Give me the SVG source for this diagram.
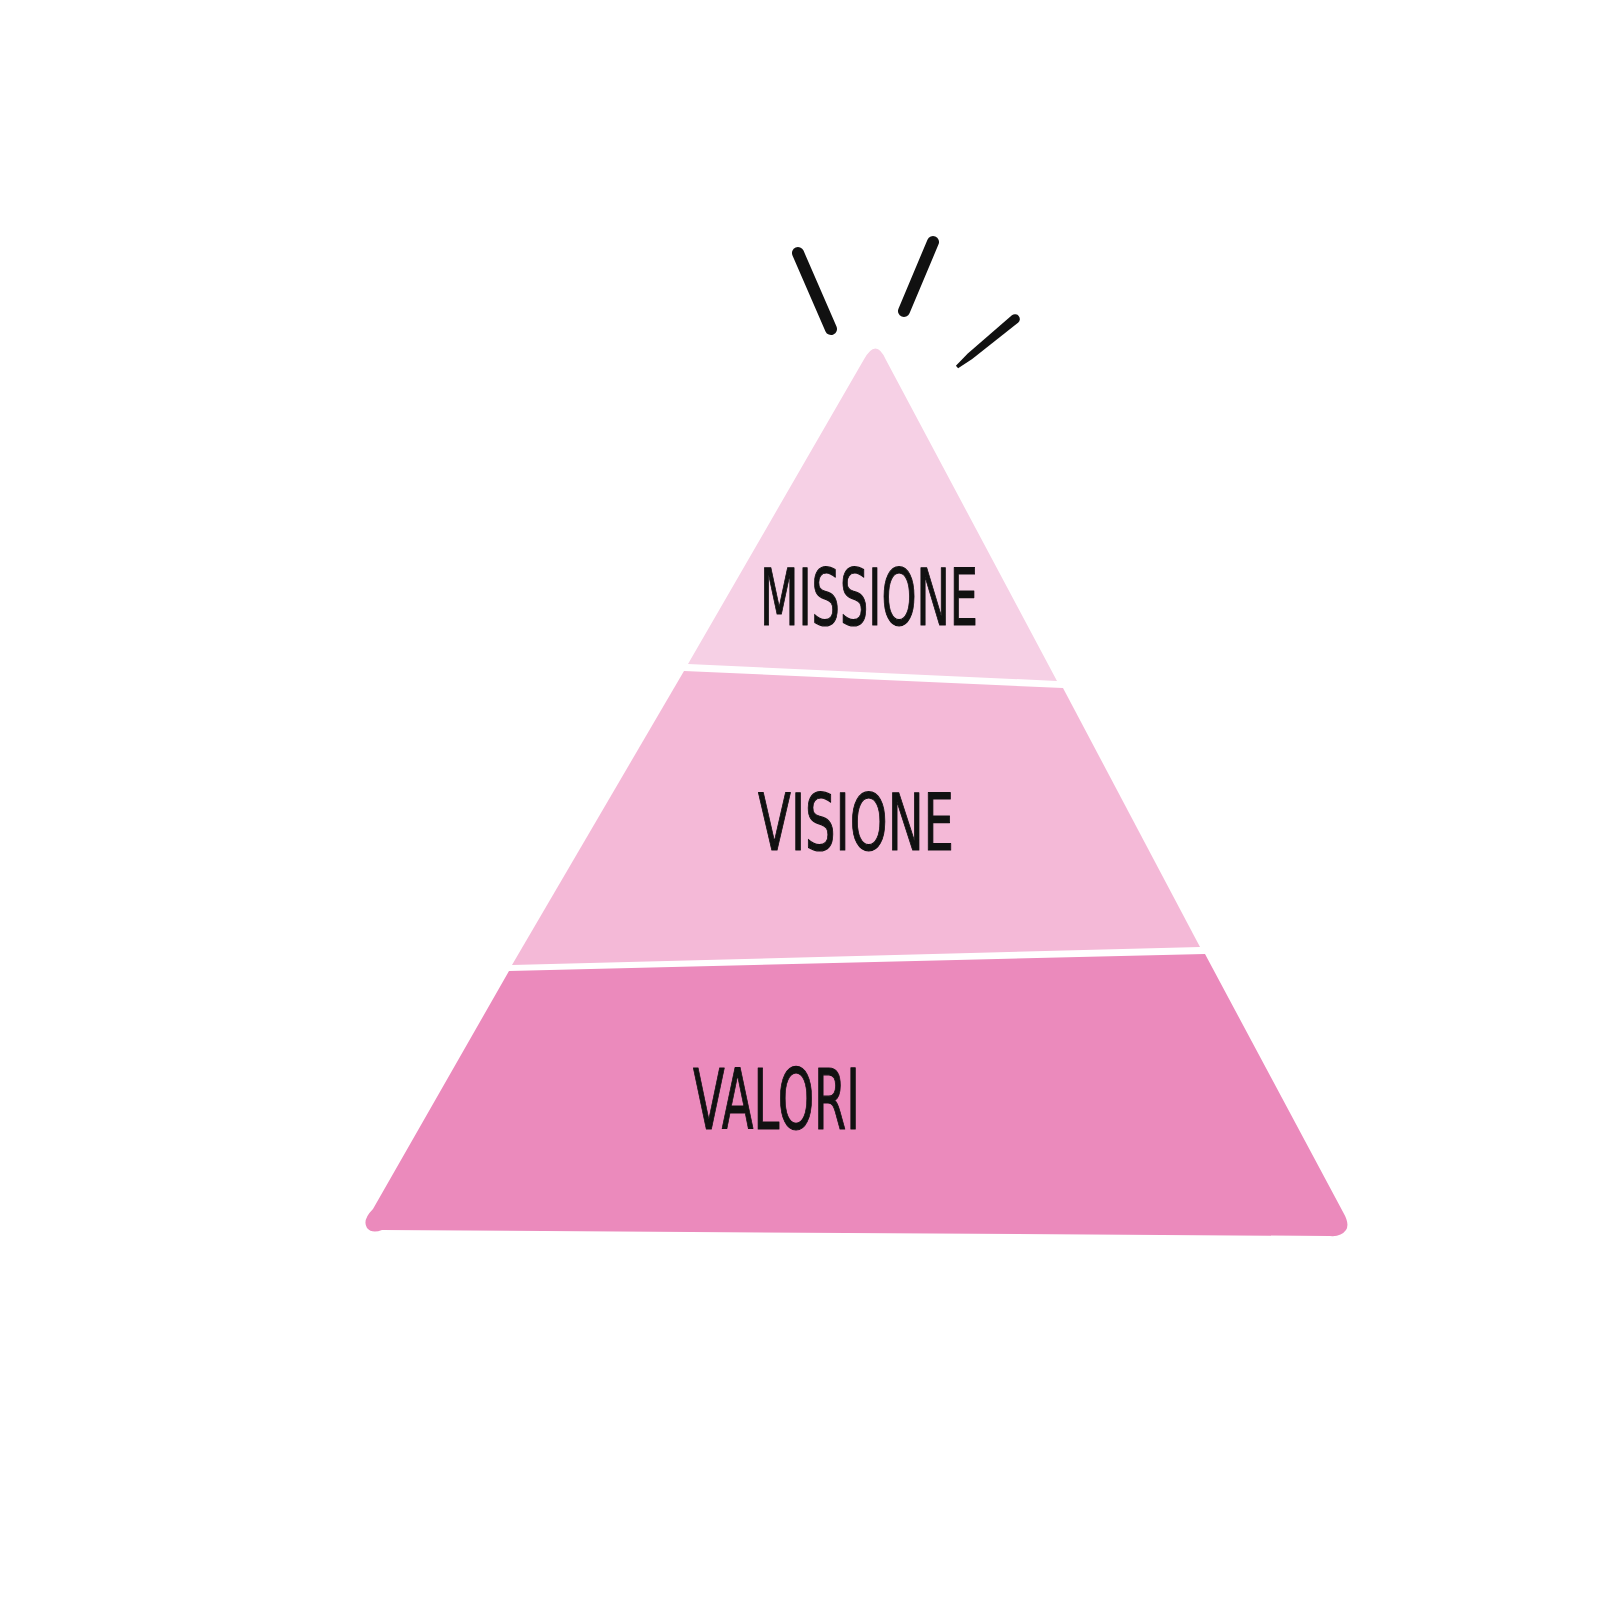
<svg xmlns="http://www.w3.org/2000/svg" width="1600" height="1600" viewBox="0 0 1600 1600">
  <style>
    .lbl { font-family: "DejaVu Sans", "Liberation Sans", sans-serif; fill: #111111; stroke: #111111; stroke-width: 1.2; stroke-linejoin: round; font-weight: normal; }
    .spark { stroke: #111111; stroke-linecap: round; fill: none; }
  </style>
  <rect width="1600" height="1600" fill="#ffffff"/>
  <g id="sparkles">
    <line class="spark" x1="798" y1="253" x2="831" y2="329" stroke-width="12"/>
    <line class="spark" x1="933" y1="242" x2="904" y2="311" stroke-width="12"/>
    <path d="M1011.9,315.3 A4.8,4.8 0 0 1 1018.1,322.7 L972.2,358.9 L958.1,368.3 L955.9,365.7 L967.8,353.5 Z" fill="#111111"/>
  </g>
  <g id="node-missione">
    <path d="M688,664 L863.6,360 Q876,337 886,360 L1057,681 Z" fill="#F6D0E5"/>
    <text class="lbl" x="760" y="625" font-size="78" textLength="218" lengthAdjust="spacingAndGlyphs">MISSIONE</text>
  </g>
  <g id="node-visione">
    <path d="M684,671 L1063,688 L1200,947 L512,965 Z" fill="#F4B9D7"/>
    <text class="lbl" x="758" y="850" font-size="78" textLength="196" lengthAdjust="spacingAndGlyphs">VISIONE</text>
  </g>
  <g id="node-valori">
    <path d="M509,971 L1205,954 L1343,1212 Q1350,1224 1346,1230 Q1341,1237 1330,1236 L382,1230 Q372,1234 367,1228 Q362,1220 373,1209 Z" fill="#EB8ABC"/>
    <text class="lbl" x="693" y="1129" font-size="84" textLength="167" lengthAdjust="spacingAndGlyphs">VALORI</text>
  </g>
  <g id="connectors"/>
</svg>
